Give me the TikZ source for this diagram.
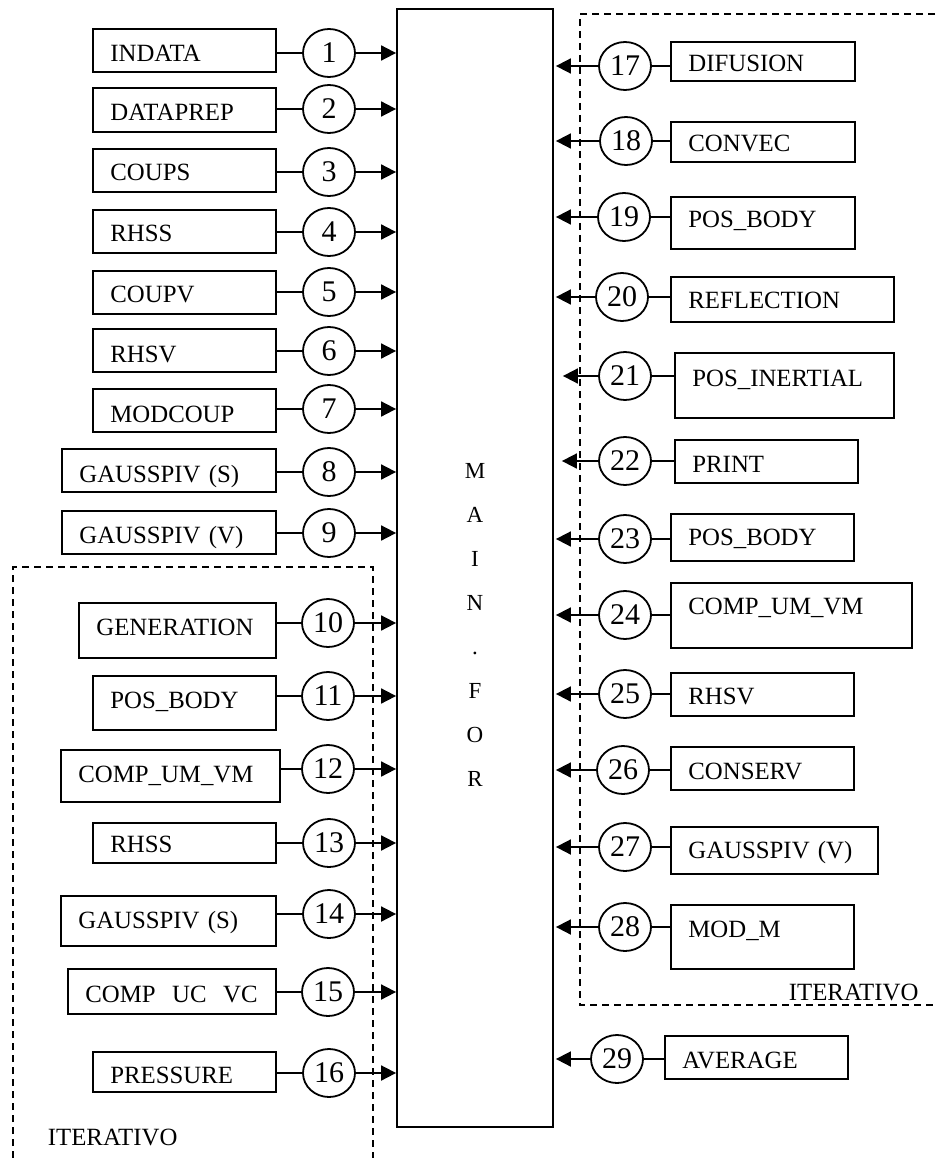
\documentclass[tikz,border=0pt]{standalone}
\usepackage{fontspec}
\setmainfont{Liberation Serif}
\usetikzlibrary{shapes.geometric, arrows.meta}
\newcommand{\boxfont}{\fontsize{24.8}{30}\selectfont}
\newcommand{\numfont}{\fontsize{30}{36}\selectfont}
\newcommand{\mainlblfont}{\fontsize{23}{44}\selectfont}

\begin{document}
\begin{tikzpicture}[x=1pt, y=-1pt, line width=1.8pt,
    sub/.style n args={3}{draw, anchor=base west, inner xsep=17.5pt, inner ysep=0pt,
                          text width=#1pt, text height=#2pt, text depth=#3pt,
                          align=left, font=\boxfont},
    num/.style={draw, ellipse, minimum width=52pt, minimum height=48pt,
                inner sep=0pt, font=\numfont},
    ln/.style={-},
    arr/.style={-{Triangle[length=15pt, width=15pt]}},
    iter/.style={dash pattern=on 7pt off 5pt}
  ]
  \useasboundingbox (0,0) rectangle (935,1158);

  % Main program
  \node[draw, minimum width=156pt, minimum height=1118pt, inner sep=0pt] (main) at (475,568) {};
  \node[font=\mainlblfont, align=center, inner sep=0pt, anchor=north] (mlbl) at (475,463)
        {M\\A\\I\\N\\.\\F\\O\\R};

  % Iterative regions
  \draw[iter] (13,1158) -- (13,567) -- (373,567) -- (373,1158);
  \draw[iter] (935,14) -- (580,14) -- (580,1005) -- (935,1005);
  \node[font=\boxfont, anchor=base west, inner sep=0pt] (itl) at (47,1145) {ITERATIVO};
  \node[font=\boxfont, anchor=base west, inner sep=0pt] (itr) at (788,1000) {ITERATIVO};

  % Left side: inputs
  \node[sub={148}{33}{10}] (b1) at (92,62) {INDATA};
  \node[num] (n1) at (329,53) {1};
  \node[sub={148}{33}{11}] (b2) at (92,121) {DATAPREP};
  \node[num] (n2) at (329,109) {2};
  \node[sub={148}{32}{11}] (b3) at (92,181) {COUPS};
  \node[num] (n3) at (329,172) {3};
  \node[sub={148}{32}{11}] (b4) at (92,242) {RHSS};
  \node[num] (n4) at (329,232) {4};
  \node[sub={148}{31}{12}] (b5) at (92,302) {COUPV};
  \node[num] (n5) at (329,292) {5};
  \node[sub={148}{33}{10}] (b6) at (92,362) {RHSV};
  \node[num] (n6) at (329,351) {6};
  \node[sub={148}{33}{10}] (b7) at (92,422) {MODCOUP};
  \node[num] (n7) at (329,409) {7};
  \node[sub={179}{33}{10}] (b8) at (61,482) {GAUSSPIV (S)};
  \node[num] (n8) at (329,472) {8};
  \node[sub={179}{32}{11}] (b9) at (61,543) {GAUSSPIV (V)};
  \node[num] (n9) at (329,533) {9};
  \node[sub={162}{32}{23}] (b10) at (78,635) {GENERATION};
  \node[num] (n10) at (328,623) {10};
  \node[sub={148}{32}{22}] (b11) at (92,708) {POS\_BODY};
  \node[num] (n11) at (328,696) {11};
  \node[sub={184}{32}{20}] (b12) at (60,782) {COMP\_UM\_VM};
  \node[num] (n12) at (328,769) {12};
  \node[sub={148}{29}{11}] (b13) at (92,852) {RHSS};
  \node[num] (n13) at (329,843) {13};
  \node[sub={180}{32}{18}] (b14) at (60,928) {GAUSSPIV (S)};
  \node[num] (n14) at (329,914) {14};
  \node[sub={173}{33}{12}] (b15) at (67,1002) {COMP\ \ UC\ \ VC};
  \node[num] (n15) at (328,992) {15};
  \node[sub={148}{31}{9}] (b16) at (92,1083) {PRESSURE};
  \node[num] (n16) at (329,1073) {16};

  \foreach \i in {1,...,16} {
    \draw[ln] (b\i.east |- n\i) -- (n\i);
    \draw[arr] (n\i) -- (n\i -| main.west);
  }

  % Right side: calls
  \node[sub={149}{30}{9}] (b17) at (670,72) {DIFUSION};
  \node[num] (n17) at (625,66) {17};
  \node[sub={149}{30}{10}] (b18) at (670,152) {CONVEC};
  \node[num] (n18) at (626,141) {18};
  \node[sub={149}{31}{21}] (b19) at (670,228) {POS\_BODY};
  \node[num] (n19) at (624,217) {19};
  \node[sub={188}{31}{14}] (b20) at (670,308) {REFLECTION};
  \node[num] (n20) at (622,297) {20};
  \node[sub={184}{33}{32}] (b21) at (674,386) {POS\_INERTIAL};
  \node[num] (n21) at (625,376) {21};
  \node[sub={148}{32}{11}] (b22) at (674,472) {PRINT};
  \node[num] (n22) at (625,461) {22};
  \node[sub={148}{31}{16}] (b23) at (670,545) {POS\_BODY};
  \node[num] (n23) at (625,539) {23};
  \node[sub={206}{31}{34}] (b24) at (670,614) {COMP\_UM\_VM};
  \node[num] (n24) at (625,615) {24};
  \node[sub={148}{31}{12}] (b25) at (670,704) {RHSV};
  \node[num] (n25) at (625,694) {25};
  \node[sub={148}{32}{11}] (b26) at (670,779) {CONSERV};
  \node[num] (n26) at (623,770) {26};
  \node[sub={172}{31}{16}] (b27) at (670,858) {GAUSSPIV (V)};
  \node[num] (n27) at (625,847) {27};
  \node[sub={148}{32}{32}] (b28) at (670,937) {MOD\_M};
  \node[num] (n28) at (625,927) {28};
  \node[sub={148}{32}{11}] (b29) at (664,1068) {AVERAGE};
  \node[num] (n29) at (617,1059) {29};

  \foreach \i in {17,...,29} {
    \draw[ln] (b\i.west |- n\i) -- (n\i);
  }
  \foreach \i in {17,18,19,20,23,24,25,26,27,28,29} {
    \draw[arr, shorten >=2pt] (n\i) -- (n\i -| main.east);
  }
  \draw[arr, shorten >=9pt] (n21) -- (n21 -| main.east);
  \draw[arr, shorten >=8pt] (n22) -- (n22 -| main.east);
\end{tikzpicture}
\end{document}
